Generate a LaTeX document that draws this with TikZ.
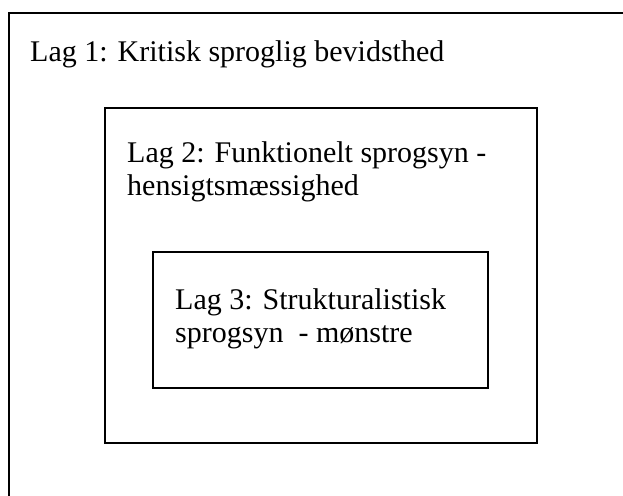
\documentclass[tikz,border=0pt]{standalone}
\usepackage{fontspec}
\setmainfont{Liberation Serif}
\begin{document}
\begin{tikzpicture}[x=1pt,y=-1pt,
  box/.style={draw=black,line width=1.6pt},
  lbl/.style={anchor=base west,inner sep=0pt,align=left,
    font=\fontsize{30}{33}\selectfont}]
\useasboundingbox (0,0) rectangle (623,495);
\clip (0,0) rectangle (623,495);
\draw[box,line width=1.4pt] (9,13) rectangle (660,540);
\draw[box] (105,108) rectangle (537,443);
\draw[box] (153,252) rectangle (488,388);
\node[lbl] (l1) at (30,62) {Lag 1: Kritisk sproglig bevidsthed};
\node[lbl] (l2) at (127,195) {Lag 2: Funktionelt sprogsyn -\\hensigtsmæssighed};
\node[lbl] (l3) at (175,342) {Lag 3: Strukturalistisk\\sprogsyn~ - mønstre};
\end{tikzpicture}
\end{document}
